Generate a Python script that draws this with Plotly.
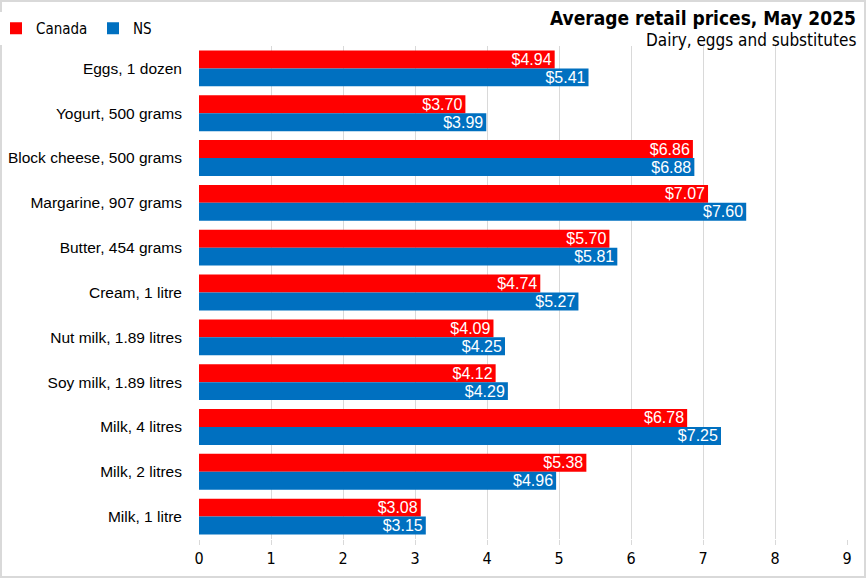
import plotly.graph_objects as go

categories = ["Eggs, 1 dozen", "Yogurt, 500 grams", "Block cheese, 500 grams", "Margarine, 907 grams",
              "Butter, 454 grams", "Cream, 1 litre", "Nut milk, 1.89 litres", "Soy milk, 1.89 litres",
              "Milk, 4 litres", "Milk, 2 litres", "Milk, 1 litre"]
canada = [4.94, 3.70, 6.86, 7.07, 5.70, 4.74, 4.09, 4.12, 6.78, 5.38, 3.08]
ns = [5.41, 3.99, 6.88, 7.60, 5.81, 5.27, 4.25, 4.29, 7.25, 4.96, 3.15]
x_ticks = [0, 1, 2, 3, 4, 5, 6, 7, 8, 9]

W, H = 866, 578
L, R, T, B = 199, 19, 46, 39
NARROW = "DejaVu Sans Condensed, Roboto Condensed, Roboto"

fig = go.Figure()
for name, vals, col in [("Canada", canada, "#FF0000"), ("NS", ns, "#0070C0")]:
    fig.add_trace(go.Bar(
        y=categories, x=vals, name=name, orientation="h", marker=dict(color=col, line_width=0),
        text=[f"${v:.2f}" for v in vals], textposition="inside", insidetextanchor="end",
        constraintext="none", textangle=0,
        textfont=dict(color="white", size=16, family="Liberation Sans"),
        cliponaxis=False,
    ))

pw, ph = W - L - R, H - T - B
fig.update_layout(
    width=W, height=H, barmode="group", bargap=0.2, bargroupgap=0,
    margin=dict(l=L, r=R, t=T, b=B, autoexpand=False),
    plot_bgcolor="white", paper_bgcolor="white",
    font=dict(family="Liberation Sans", size=15, color="#000000"),
    showlegend=True,
    legend=dict(orientation="h", x=-(L + 4) / pw, y=1 + (T - 12) / ph, xanchor="left", yanchor="top",
                font=dict(family=NARROW, size=15), traceorder="normal",
                itemwidth=30, tracegroupgap=0, entrywidth=52, entrywidthmode="pixels"),
)
fig.update_xaxes(range=[0, 9], tickvals=x_ticks, showgrid=True, gridcolor="#D9D9D9", gridwidth=1.3,
                 zeroline=False, ticks="outside", ticklen=5, tickcolor="#D9D9D9",
                 tickfont=dict(family=NARROW, size=16), showline=False, automargin=False)
fig.update_yaxes(autorange="reversed", showgrid=False, ticks="", ticklabelstandoff=16,
                 tickfont=dict(family="Liberation Sans", size=15.5), showline=False, automargin=False)

fig.add_annotation(text="<b>Average retail prices, May 2025</b>", xref="paper", yref="paper",
                   x=1 + (R - 8) / pw, y=1 + (T - 5) / ph, xanchor="right", yanchor="top",
                   showarrow=False, font=dict(family=NARROW, size=19, color="#000"))
fig.add_annotation(text="Dairy, eggs and substitutes", xref="paper", yref="paper",
                   x=1 + (R - 8) / pw, y=1 + (T - 28) / ph, xanchor="right", yanchor="top",
                   showarrow=False, font=dict(family=NARROW, size=17, color="#000"))
fig.add_shape(type="rect", xref="paper", yref="paper",
              x0=-(L - 1) / pw, x1=1 + (R - 1) / pw, y0=-(B - 1) / ph, y1=1 + (T - 1) / ph,
              line=dict(color="#D9D9D9", width=2), fillcolor="rgba(0,0,0,0)", layer="above")

fig.write_html("out.html", config={"displayModeBar": False},
               post_script="document.body.style.margin='0';")
